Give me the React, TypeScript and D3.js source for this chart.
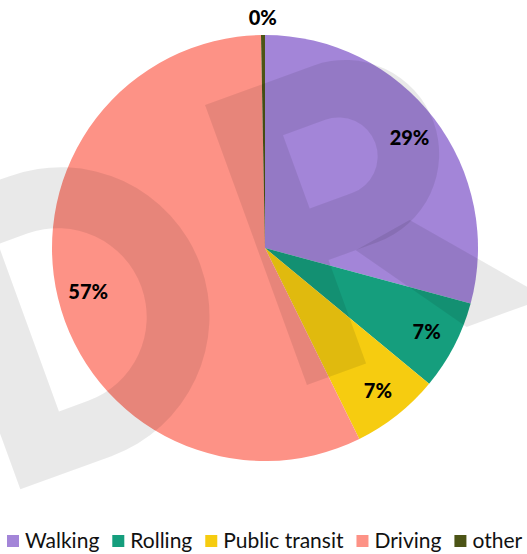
import * as d3 from 'd3';

const categories = ['Walking', 'Rolling', 'Public transit', 'Driving', 'other'];
const shares = [29.2, 6.8, 6.7, 57.0, 0.3];
const colors = ['#a385d8', '#159e7d', '#f6cc10', '#fd9286', '#4c5416'];

const width = 527;
const height = 554;
const cx = 265;
const cy = 248;
const radius = 213;

// watermark letters in local coords (rotated -20deg around R stem top-left)
const letterD =
  'M-305,0 H-208 A149,149 0 0 1 -208,298 H-305 Z M-242,60 V238 H-211 A89,89 0 0 0 -211,60 Z';
const letterR =
  'M0,0 H115 A94,94 0 0 1 115,188 H63 V298 H0 Z M63,55 V133 H108 A39,39 0 0 0 108,55 Z';
const letterRLeg = 'M92,188 L153,178 L255,298 L170,298 Z';

function textWidth(text: string, font: string) {
  const ctx = document.createElement('canvas').getContext('2d');
  if (!ctx) return text.length * 10;
  ctx.font = font;
  return ctx.measureText(text).width;
}

export default function App() {
  const data = categories.map((name, i) => ({ name, value: shares[i], color: colors[i] }));
  const pie = d3.pie<any>().value((d) => d.value).sort(null);
  const arcs = pie(data);
  const arc = d3.arc<any>().innerRadius(0).outerRadius(radius);
  const labelArc = d3.arc<any>().innerRadius(182).outerRadius(182);
  const outerArc = d3.arc<any>().innerRadius(radius + 18).outerRadius(radius + 18);

  const legendFont = '21px Lato';
  let lx = 7;
  const legendItems = data.map((d) => {
    const item = { ...d, x: lx };
    lx += 12 + 6 + textWidth(d.name, legendFont) + 13;
    return item;
  });

  return (
    <svg width={width} height={height} style={{ display: 'block', position: 'absolute', left: 0, top: 0 }}>
      <style>{'body{margin:0}'}</style>
      <g transform={`translate(${cx},${cy})`}>
        {arcs.map((s) => (
          <path key={s.data.name} d={arc(s) ?? ''} fill={s.data.color} />
        ))}
      </g>
      <g transform="translate(205,105) rotate(-20)" fill="#000" fillOpacity={0.085}>
        <path d={letterD} fillRule="evenodd" />
        <path d={letterR} fillRule="evenodd" />
        <path d={letterRLeg} />
      </g>
      <g transform={`translate(${cx},${cy})`}>
        {arcs.map((s) => {
          const small = s.endAngle - s.startAngle < 0.2;
          const [x, y] = small ? outerArc.centroid(s) : labelArc.centroid(s);
          return (
            <text
              key={s.data.name + '-l'}
              x={x}
              y={y}
              dy="0.38em"
              textAnchor="middle"
              fontFamily="Lato"
              fontWeight={900}
              fontSize={20}
              fill="#000"
            >
              {Math.round(s.data.value)}%
            </text>
          );
        })}
      </g>
      <g transform="translate(0,541)">
        {legendItems.map((d) => (
          <g key={d.name} transform={`translate(${d.x},0)`}>
            <rect x={0} y={-6} width={12} height={12} fill={d.color} />
            <text x={18} y={0} dy="0.35em" fontFamily="Lato" fontSize={21} fill="#111">
              {d.name}
            </text>
          </g>
        ))}
      </g>
    </svg>
  );
}
